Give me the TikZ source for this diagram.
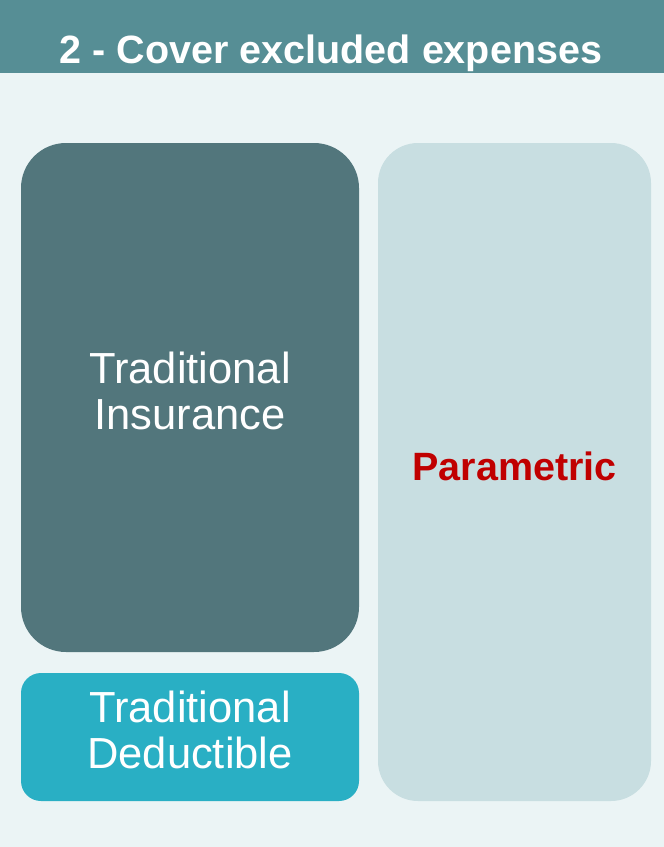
\documentclass[tikz,border=0pt]{standalone}
\usepackage{fontspec}
\setmainfont{Liberation Sans}
\definecolor{headc}{HTML}{568E95}
\definecolor{bgc}{HTML}{EBF4F5}
\definecolor{insc}{HTML}{52767C}
\definecolor{dedc}{HTML}{29AFC4}
\definecolor{parc}{HTML}{C8DEE1}
\definecolor{redc}{HTML}{C00000}
\tikzset{
  panel/.style={rectangle, draw=none, inner sep=0pt},
  whitetxt/.style={text=white, align=center, inner sep=0pt, font=\fontsize{43.5}{46}\selectfont},
}
\begin{document}
\begin{tikzpicture}[x=1pt,y=-1pt]
\useasboundingbox (0,0) rectangle (664,847);
\fill[bgc] (0,0) rectangle (664,847);
\fill[headc] (0,0) rectangle (664,73);
\node[anchor=base, text=white, inner sep=0pt, font=\fontsize{39.5}{44}\selectfont\bfseries] (title) at (331,63) {2 - Cover excluded expenses};
% boxes
\node[panel, fill=insc, minimum width=338pt, minimum height=509pt, rounded corners=45pt] (ins) at (190,397.5) {};
\node[panel, fill=dedc, minimum width=338pt, minimum height=128pt, rounded corners=20pt] (ded) at (190,737) {};
\node[panel, fill=parc, minimum width=273pt, minimum height=658pt, rounded corners=40pt] (par) at (514.5,472) {};
% texts
\node[whitetxt] (inst) at ([yshift=7pt]ins.center) {Traditional\\Insurance};
\node[whitetxt] (dedt) at ([yshift=7pt]ded.center) {Traditional\\Deductible};
\node[text=redc, inner sep=0pt, font=\fontsize{39.5}{42}\selectfont\bfseries] (part) at ([yshift=5.5pt]par.center) {Parametric};
\end{tikzpicture}
\end{document}
